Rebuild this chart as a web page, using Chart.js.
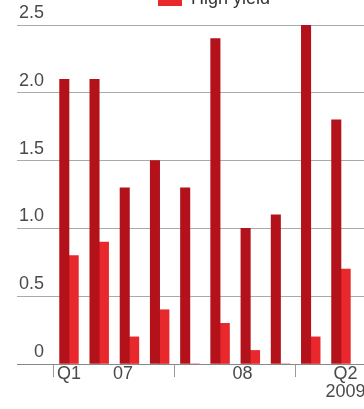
<!DOCTYPE html>
<html>
<head>
<meta charset="utf-8">
<script src="https://cdn.jsdelivr.net/npm/chart.js@4.4.1/dist/chart.umd.min.js"></script>
<style>
  html, body { margin: 0; padding: 0; background: #fff; }
  #wrap { position: relative; width: 364px; height: 409px; overflow: hidden; }
</style>
</head>
<body>
<div id="wrap"><canvas id="chart"></canvas></div>
<script>
// quarterly issuance, Q1 2007 - Q2 2009
const quarters = ["Q1 2007", "Q2 2007", "Q3 2007", "Q4 2007", "Q1 2008", "Q2 2008", "Q3 2008", "Q4 2008", "Q1 2009", "Q2 2009"];
const investmentGrade = [2.1, 2.1, 1.3, 1.5, 1.3, 2.4, 1.0, 1.1, 2.5, 1.8];
const highYield = [0.8, 0.9, 0.2, 0.4, 0, 0.3, 0.1, 0, 0.2, 0.7];
const xTickLabels = ["Q1", "07", "08", ["Q2", "2009"]];
const yTicks = [0, 0.5, 1.0, 1.5, 2.0, 2.5];

const labelFont = { family: "Liberation Sans", size: 18, lineHeight: 1 };
const labelColor = "#4a4a4a";

// label spots and year separators along the quarter index
const labelAt = [0, 1.79, 5.74, 9.15];
const separators = [-0.5, 3.5, 7.5];

const legendPlacer = {
  id: "legendPlacer",
  afterLayout(chart) {
    chart.legend.left = 148;
    chart.legend.top = -20;
  }
};

const ctx = document.getElementById("chart").getContext("2d");
new Chart(ctx, {
  type: "bar",
  data: {
    datasets: [{
      label: "Investment grade",
      data: investmentGrade.map((v, i) => ({ x: i, y: v })),
      backgroundColor: "#b3121b",
      borderWidth: 0
    }, {
      label: "High yield",
      data: highYield.map((v, i) => ({ x: i, y: v })),
      backgroundColor: "#e8282c",
      borderWidth: 0
    }]
  },
  options: {
    responsive: true,
    maintainAspectRatio: false,
    animation: false,
    barThickness: 9.4,
    layout: { padding: { top: 25, right: 0, bottom: 0, left: 0 } },
    plugins: {
      legend: {
        position: "chartArea",
        align: "start",
        labels: {
          boxWidth: 24,
          boxHeight: 14,
          color: "#333",
          font: { family: "Liberation Sans", size: 18 },
          filter: item => item.text === "High yield"
        }
      },
      tooltip: {
        callbacks: { title: items => quarters[items[0].parsed.x] }
      }
    },
    scales: {
      x: {
        type: "linear",
        offset: false,
        min: -0.794,
        max: 9.762,
        afterBuildTicks: s => {
          s.ticks = separators.concat(labelAt).sort((a, b) => a - b).map(v => ({ value: v }));
        },
        ticks: {
          autoSkip: false,
          maxRotation: 0,
          padding: -12,
          color: labelColor,
          font: labelFont,
          callback: v => {
            const k = labelAt.indexOf(v);
            return k < 0 ? "" : xTickLabels[k];
          }
        },
        grid: {
          offset: false,
          drawOnChartArea: false,
          tickLength: 13,
          color: c => (c.tick && separators.includes(c.tick.value)) ? "#999" : "rgba(0,0,0,0)"
        },
        border: { color: "#888" },
        afterFit: s => { s.height = 45; }
      },
      y: {
        min: 0,
        max: 2.5,
        afterBuildTicks: s => { s.ticks = yTicks.map(v => ({ value: v })); },
        ticks: {
          padding: -27,
          labelOffset: -12,
          color: labelColor,
          font: labelFont,
          callback: v => v === 0 ? "0" : v.toFixed(1)
        },
        grid: {
          tickLength: 28,
          color: c => (c.tick && c.tick.value === 0) ? "#888" : "#aaa"
        },
        border: { display: false },
        afterFit: s => { s.width = 45; }
      }
    }
  },
  plugins: [legendPlacer]
});
</script>
</body>
</html>
